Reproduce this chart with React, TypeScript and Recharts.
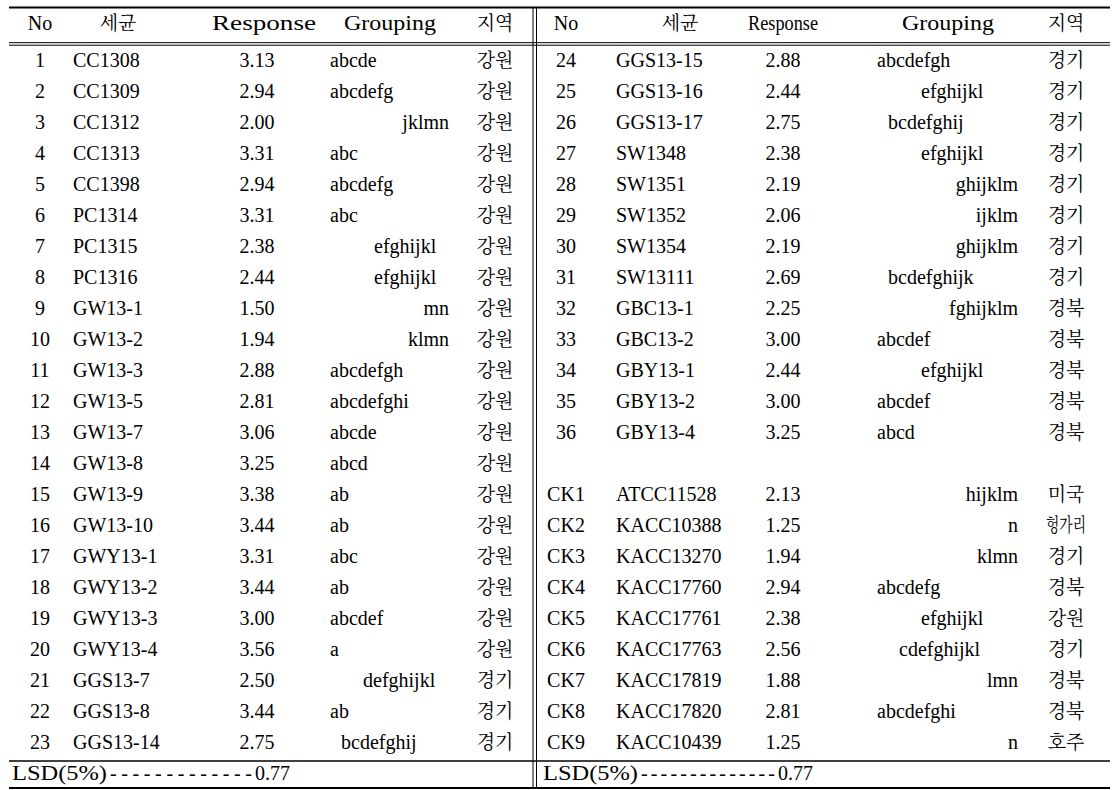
import { ScatterChart, Scatter, XAxis, YAxis, ReferenceLine } from "recharts";

const HEADERS = ["No", "세균", "Response", "Grouping", "지역"];

const LEFT_NO = ["1", "2", "3", "4", "5", "6", "7", "8", "9", "10", "11", "12", "13", "14", "15", "16", "17", "18", "19", "20", "21", "22", "23"];
const LEFT_STRAIN = ["CC1308", "CC1309", "CC1312", "CC1313", "CC1398", "PC1314", "PC1315", "PC1316", "GW13-1", "GW13-2", "GW13-3", "GW13-5", "GW13-7", "GW13-8", "GW13-9", "GW13-10", "GWY13-1", "GWY13-2", "GWY13-3", "GWY13-4", "GGS13-7", "GGS13-8", "GGS13-14"];
const LEFT_RESPONSE = [3.13, 2.94, 2.0, 3.31, 2.94, 3.31, 2.38, 2.44, 1.5, 1.94, 2.88, 2.81, 3.06, 3.25, 3.38, 3.44, 3.31, 3.44, 3.0, 3.56, 2.5, 3.44, 2.75];
const LEFT_GROUPING = ["abcde", "abcdefg", "jklmn", "abc", "abcdefg", "abc", "efghijkl", "efghijkl", "mn", "klmn", "abcdefgh", "abcdefghi", "abcde", "abcd", "ab", "ab", "abc", "ab", "abcdef", "a", "defghijkl", "ab", "bcdefghij"];
const LEFT_REGION = ["강원", "강원", "강원", "강원", "강원", "강원", "강원", "강원", "강원", "강원", "강원", "강원", "강원", "강원", "강원", "강원", "강원", "강원", "강원", "강원", "경기", "경기", "경기"];

const RIGHT_NO = ["24", "25", "26", "27", "28", "29", "30", "31", "32", "33", "34", "35", "36", "CK1", "CK2", "CK3", "CK4", "CK5", "CK6", "CK7", "CK8", "CK9"];
const RIGHT_STRAIN = ["GGS13-15", "GGS13-16", "GGS13-17", "SW1348", "SW1351", "SW1352", "SW1354", "SW13111", "GBC13-1", "GBC13-2", "GBY13-1", "GBY13-2", "GBY13-4", "ATCC11528", "KACC10388", "KACC13270", "KACC17760", "KACC17761", "KACC17763", "KACC17819", "KACC17820", "KACC10439"];
const RIGHT_RESPONSE = [2.88, 2.44, 2.75, 2.38, 2.19, 2.06, 2.19, 2.69, 2.25, 3.0, 2.44, 3.0, 3.25, 2.13, 1.25, 1.94, 2.94, 2.38, 2.56, 1.88, 2.81, 1.25];
const RIGHT_GROUPING = ["abcdefgh", "efghijkl", "bcdefghij", "efghijkl", "ghijklm", "ijklm", "ghijklm", "bcdefghijk", "fghijklm", "abcdef", "efghijkl", "abcdef", "abcd", "hijklm", "n", "klmn", "abcdefg", "efghijkl", "cdefghijkl", "lmn", "abcdefghi", "n"];
const RIGHT_REGION = ["경기", "경기", "경기", "경기", "경기", "경기", "경기", "경기", "경북", "경북", "경북", "경북", "경북", "미국", "헝가리", "경기", "경북", "강원", "경기", "경북", "경북", "호주"];

const LSD_LABEL = "LSD(5%)";
const LSD_VALUE = 0.77;
const LSD_DASHES = [13, 14];

// layout (px along x, row units along y)
const W = 1115;
const H = 790;
const LATIN = { fontFamily: "'Liberation Serif', Tinos, serif", fontSize: 20 };
const HANGUL = { fontFamily: "'Noto Serif CJK KR', 'Noto Sans CJK KR', serif", fontSize: 19 };
const CK_ROW = 15;

const COLS = {
  L: { no: 40, name: 73, nameH: 118, resp: 257, respH: 264, respW: 104, groupH: 390, groupW: 92, gLeft: 330, gRight: 449, region: 495, lsd: 12, dash0: 110, dash1: 252, val: 255 },
  R: { no: 566, name: 616, nameH: 680, resp: 783, respH: 783, respW: 70, groupH: 948, groupW: 92, gLeft: 877, gRight: 1018, region: 1066, lsd: 543, dash0: 641, dash1: 775, val: 778 },
};
const G_INDENT = 11;
const LSD_W = 95;

const RULE_TOP = -0.92;
const RULE_HEAD1 = 0.215;
const RULE_HEAD2 = 0.297;
const RULE_FOOT = 23.39;
const RULE_BOTTOM = 24.26;

const leftRows = LEFT_NO.map((no, i) => ({
  x: 0, y: i + 1, side: "L", no, strain: LEFT_STRAIN[i], resp: LEFT_RESPONSE[i], group: LEFT_GROUPING[i], region: LEFT_REGION[i],
}));
const rightRows = RIGHT_NO.map((no, i) => ({
  x: 0, y: no.startsWith("CK") ? CK_ROW + i - 13 : i + 1, side: "R", no, strain: RIGHT_STRAIN[i], resp: RIGHT_RESPONSE[i], group: RIGHT_GROUPING[i], region: RIGHT_REGION[i],
}));
const headRows = [{ x: 0, y: 0, side: "L" }, { x: 0, y: 0, side: "R" }];
const footRows = [{ x: 0, y: 24, side: "L", dashes: LSD_DASHES[0] }, { x: 0, y: 24, side: "R", dashes: LSD_DASHES[1] }];

// letters ending in m/n sit against the right edge, the rest step in by first letter
function groupPos(g: string, c: any) {
  const last = g[g.length - 1];
  if (last === "m" || last === "n") return { x: c.gRight, anchor: "end" };
  return { x: c.gLeft + (g.charCodeAt(0) - 97) * G_INDENT, anchor: "start" };
}

function T({ x, y, anchor = "start", font = LATIN, len, adjust = "spacingAndGlyphs", children }: any) {
  return (
    <text x={x} y={y} textAnchor={anchor} fill="#000" style={font} textLength={len} lengthAdjust={len ? adjust : undefined}>
      {children}
    </text>
  );
}

function BodyRow(props: any) {
  const { cy, payload } = props;
  const c = COLS[payload.side as "L" | "R"];
  const gp = groupPos(payload.group, c);
  return (
    <g>
      <T x={c.no} y={cy} anchor="middle">{payload.no}</T>
      <T x={c.name} y={cy}>{payload.strain}</T>
      <T x={c.resp} y={cy} anchor="middle">{payload.resp.toFixed(2)}</T>
      <T x={gp.x} y={cy} anchor={gp.anchor}>{payload.group}</T>
      <T x={c.region} y={cy} anchor="middle" font={HANGUL} len={payload.region.length > 2 ? 40 : undefined}>{payload.region}</T>
    </g>
  );
}

function HeadRow(props: any) {
  const { cy, payload } = props;
  const c = COLS[payload.side as "L" | "R"];
  const y = cy - 6;
  return (
    <g>
      <T x={c.no} y={y} anchor="middle">{HEADERS[0]}</T>
      <T x={c.nameH} y={y} anchor="middle" font={HANGUL}>{HEADERS[1]}</T>
      <T x={c.respH} y={y} anchor="middle" len={c.respW}>{HEADERS[2]}</T>
      <T x={c.groupH} y={y} anchor="middle" len={c.groupW}>{HEADERS[3]}</T>
      <T x={c.region} y={y} anchor="middle" font={HANGUL}>{HEADERS[4]}</T>
    </g>
  );
}

function FootRow(props: any) {
  const { cy, payload } = props;
  const c = COLS[payload.side as "L" | "R"];
  return (
    <g>
      <T x={c.lsd} y={cy} len={LSD_W}>{LSD_LABEL}</T>
      <T x={c.dash0} y={cy} len={c.dash1 - c.dash0} adjust="spacing">{"-".repeat(payload.dashes)}</T>
      <T x={c.val} y={cy}>{LSD_VALUE.toFixed(2)}</T>
    </g>
  );
}

export default function App() {
  const hRules = [
    { y: RULE_TOP, w: 2 },
    { y: RULE_HEAD1, w: 1 },
    { y: RULE_HEAD2, w: 1 },
    { y: RULE_FOOT, w: 1.5 },
    { y: RULE_BOTTOM, w: 2 },
  ];
  return (
    <div style={{ position: "absolute", left: 0, top: 0, width: W, height: H, background: "#fff" }}>
      <ScatterChart width={W} height={H} margin={{ top: 0, right: 0, bottom: 0, left: 0 }}>
        <XAxis type="number" dataKey="x" domain={[0, W]} hide />
        <YAxis type="number" dataKey="y" domain={[-36 / 31, 754 / 31]} reversed hide allowDataOverflow />
        {hRules.map((r, i) => (
          <ReferenceLine key={i} segment={[{ x: 9, y: r.y }, { x: 1110, y: r.y }]} stroke="#000" strokeWidth={r.w} />
        ))}
        <ReferenceLine segment={[{ x: 533, y: RULE_TOP }, { x: 533, y: RULE_BOTTOM }]} stroke="#000" strokeWidth={1} />
        <ReferenceLine segment={[{ x: 536.5, y: RULE_TOP }, { x: 536.5, y: RULE_BOTTOM }]} stroke="#000" strokeWidth={1} />
        <Scatter data={headRows} shape={HeadRow} isAnimationActive={false} />
        <Scatter data={leftRows} shape={BodyRow} isAnimationActive={false} />
        <Scatter data={rightRows} shape={BodyRow} isAnimationActive={false} />
        <Scatter data={footRows} shape={FootRow} isAnimationActive={false} />
      </ScatterChart>
    </div>
  );
}
